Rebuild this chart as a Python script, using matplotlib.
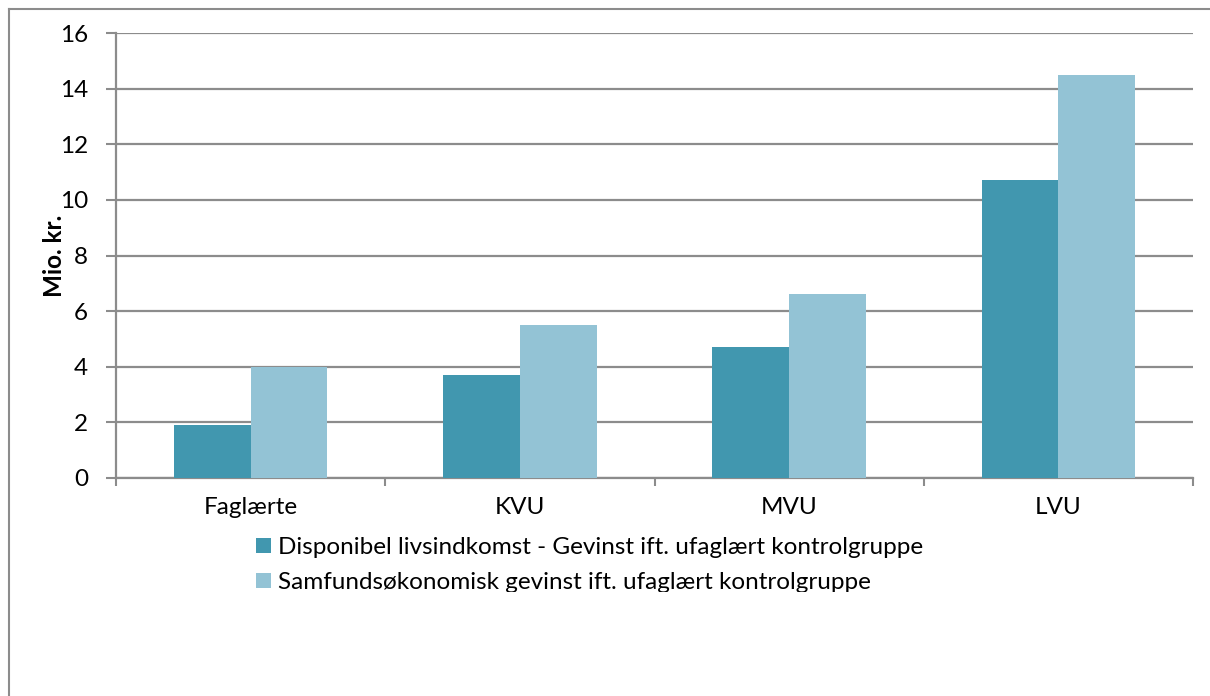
import matplotlib
matplotlib.use("Agg")
import matplotlib.pyplot as plt
import numpy as np
from matplotlib.lines import Line2D
from matplotlib.transforms import Bbox, TransformedBbox

categories = ["Faglærte", "KVU", "MVU", "LVU"]
series_names = ["Disponibel livsindkomst - Gevinst ift. ufaglært kontrolgruppe",
                "Samfundsøkonomisk gevinst ift. ufaglært kontrolgruppe"]
disponibel = [1.9, 3.7, 4.7, 10.7]
samfund = [4.0, 5.5, 6.6, 14.5]
yticks = [0, 2, 4, 6, 8, 10, 12, 14, 16]

plt.rcParams['font.family'] = ['Lato', 'DejaVu Sans']
W, H = 1210, 696
fig = plt.figure(figsize=(W/100, H/100), dpi=100)
ax = fig.add_axes([116/W, 1-478/H, (1193-116)/W, (478-33)/H])

gray = "#8c8c8c"
fs = 17.5
x = np.arange(len(categories))
bw = 0.285
b1 = ax.bar(x - bw/2, disponibel, bw, color="#4197AF", zorder=3, label=series_names[0])
b2 = ax.bar(x + bw/2, samfund, bw, color="#93C3D5", zorder=3, label=series_names[1])

ax.set_xlim(-0.5, len(categories) - 0.5)
ax.set_ylim(0, 16)
ax.set_yticks(yticks)
ax.set_yticklabels([str(v) for v in yticks], fontsize=fs)
ax.set_xticks(x)
ax.set_xticklabels(categories, fontsize=fs)
ax.set_xticks(np.arange(len(categories) + 1) - 0.5, minor=True)
ax.tick_params(axis='x', which='major', length=0, pad=14)
ax.tick_params(axis='x', which='minor', length=6, width=1.5, color=gray, direction='out')
ax.tick_params(axis='y', length=7, width=1.5, color=gray, direction='out', pad=13)
ax.yaxis.grid(True, color=gray, linewidth=1.6, zorder=0)
ax.set_axisbelow(True)
for s in ['top', 'right']:
    ax.spines[s].set_visible(False)
for s in ['left', 'bottom']:
    ax.spines[s].set_color(gray)
    ax.spines[s].set_linewidth(1.6)

ax.set_ylabel("Mio. kr.", fontsize=fs, fontweight='bold')
ax.yaxis.set_label_coords(-0.046, 0.5)

leg = fig.legend(handles=[b1, b2], labels=series_names, loc='upper left',
                 bbox_to_anchor=(256/W, 1-537/H), frameon=False, fontsize=fs,
                 handlelength=0.62, handleheight=0.62, handletextpad=0.3,
                 labelspacing=0.58, borderaxespad=0, borderpad=0)
clip = TransformedBbox(Bbox([[0, 104/H], [1, 1]]), fig.transFigure)
for t in leg.get_texts():
    t.set_clip_box(clip)
    t.set_clip_on(True)
for h in leg.legend_handles:
    h.set_clip_box(clip)
    h.set_clip_on(True)

fig.add_artist(Line2D([9/W, 1], [1-8.5/H, 1-8.5/H], color=gray, linewidth=1.5, transform=fig.transFigure))
fig.add_artist(Line2D([9/W, 9/W], [0, 1-8.5/H], color=gray, linewidth=1.5, transform=fig.transFigure))

fig.savefig("out.png", dpi=100)
